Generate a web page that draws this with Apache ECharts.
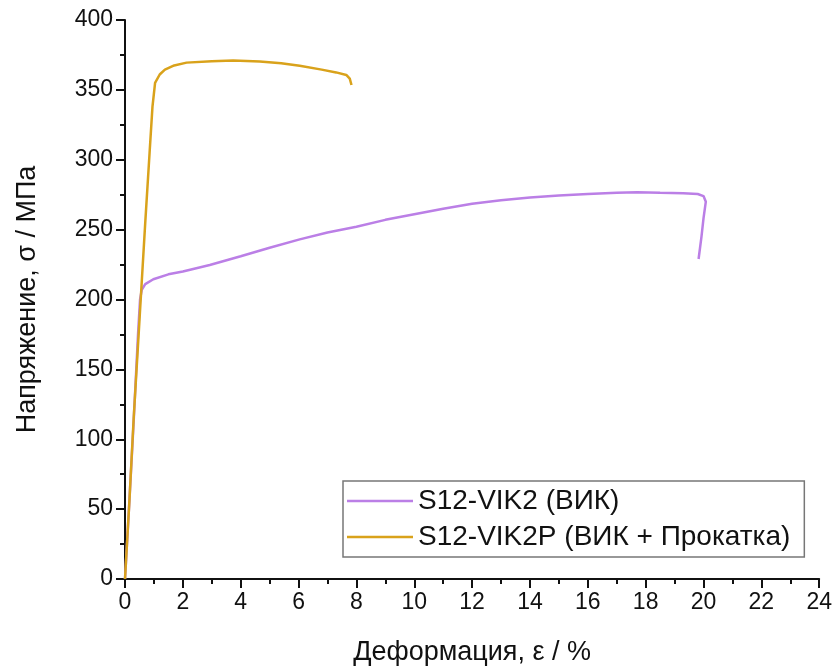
<!DOCTYPE html>
<html lang="ru">
<head>
<meta charset="utf-8">
<title>Напряжение – деформация</title>
<script src="https://cdn.jsdelivr.net/npm/echarts@6/dist/echarts.min.js"></script>
<style>
html,body{margin:0;padding:0;background:#fff;}
#main{width:835px;height:671px;}
</style>
</head>
<body>
<div id="main"></div>
<script>
// S12-VIK2 (ВИК): деформация %, напряжение МПа
var vikX = [0, 0.15, 0.3, 0.45, 0.52, 0.58, 0.7, 0.98, 1.5, 2, 2.93, 4, 5, 6.04, 7, 8, 9, 10, 11, 12, 13, 14, 15, 16, 17, 17.7, 18.5, 19.3, 19.8, 20.0, 20.08, 20.0, 19.93, 19.83];
var vikY = [0, 55, 113, 175, 200, 207, 211, 214.5, 218, 220, 224.7, 231, 237, 243, 248, 252, 257, 261, 265, 268.5, 271, 273, 274.5, 275.5, 276.3, 276.7, 276.3, 276, 275.5, 274, 270, 258, 245, 229];
// S12-VIK2P (ВИК + Прокатка)
var rollX = [0, 0.15, 0.3, 0.5, 0.7, 0.85, 0.95, 1.04, 1.2, 1.38, 1.7, 2.13, 3, 3.74, 4.66, 5.4, 6.04, 6.8, 7.3, 7.65, 7.77, 7.83];
var rollY = [0, 55, 115, 185, 255, 305, 338, 355, 361, 364.5, 367.5, 369.5, 370.5, 371, 370.3, 369, 367.3, 364.5, 362.5, 360.7, 358, 353.5];

var names = ['S12-VIK2 (ВИК)', 'S12-VIK2P (ВИК + Прокатка)'];
var colors = ['#bb7fe6', '#d9a21b'];

function pairs(xs, ys) {
  var out = [];
  for (var i = 0; i < xs.length; i++) out.push([xs[i], ys[i]]);
  return out;
}

var font = 'Liberation Sans, Arial, sans-serif';
var axisCommon = {
  axisLine: {show: true, onZero: false, lineStyle: {color: '#111', width: 2}},
  axisTick: {show: true, inside: false, length: 9, lineStyle: {color: '#111', width: 2}},
  minorTick: {show: true, splitNumber: 2, length: 5, lineStyle: {color: '#111', width: 2}},
  splitLine: {show: false},
  axisLabel: {color: '#111', fontSize: 23, fontFamily: font, margin: 12},
  nameTextStyle: {color: '#111', fontSize: 27, fontFamily: font}
};

var chart = echarts.init(document.getElementById('main'));
chart.setOption({
  animation: false,
  color: colors,
  grid: {left: 125, right: 15, top: 20, bottom: 92},
  xAxis: Object.assign({}, axisCommon, {
    type: 'value', min: 0, max: 24, interval: 2,
    name: 'Деформация, ε / %', nameLocation: 'middle', nameGap: 60
  }),
  yAxis: Object.assign({}, axisCommon, {
    type: 'value', min: 0, max: 400, interval: 50,
    name: 'Напряжение, σ / МПа', nameLocation: 'middle', nameGap: 84
  }),
  legend: {
    orient: 'vertical', left: 343, top: 481,
    borderColor: '#777', borderWidth: 1.5,
    padding: [6, 14, 6, 4], itemGap: 8,
    itemWidth: 66, itemHeight: 2.5, icon: 'rect',
    textStyle: {color: '#111', fontSize: 28, fontFamily: font},
    data: names
  },
  series: [
    {name: names[0], type: 'line', data: pairs(vikX, vikY), showSymbol: false, symbol: 'none',
     lineStyle: {width: 2.5}, itemStyle: {color: colors[0]}},
    {name: names[1], type: 'line', data: pairs(rollX, rollY), showSymbol: false, symbol: 'none',
     lineStyle: {width: 2.5}, itemStyle: {color: colors[1]}}
  ]
});
</script>
</body>
</html>
